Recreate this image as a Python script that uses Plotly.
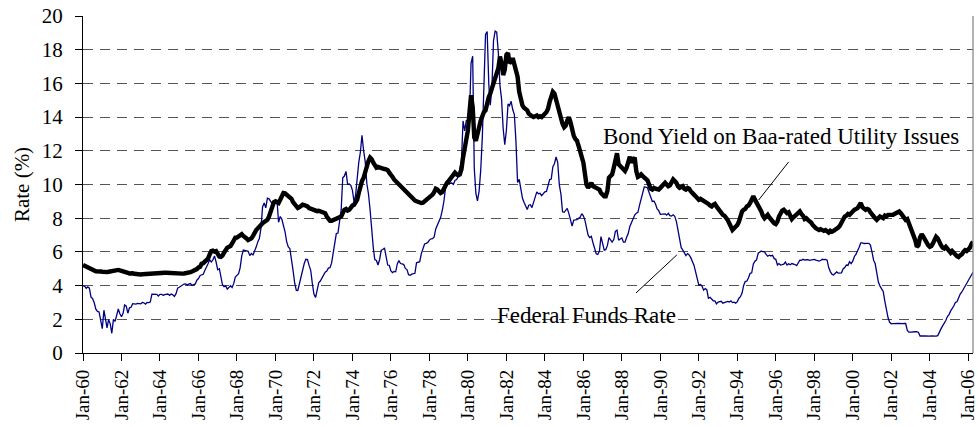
import pandas as pd
import plotly.graph_objects as go

# Monthly series, Jan 1960 - Apr 2006 (percent)
fed_funds = [
    3.99, 3.97, 3.84, 3.92, 3.85, 3.32, 3.23, 2.98, 2.60, 2.47, 2.44, 1.98,   # 1960
    1.45, 2.54, 2.02, 1.49, 1.98, 1.73, 1.17, 2.00, 1.88, 2.26, 2.61, 2.33,   # 1961
    2.15, 2.37, 2.85, 2.78, 2.36, 2.68, 2.71, 2.93, 2.90, 2.90, 2.94, 2.93,   # 1962
    2.92, 3.00, 2.98, 2.90, 3.00, 2.99, 3.02, 3.49, 3.48, 3.50, 3.48, 3.38,   # 1963
    3.48, 3.48, 3.43, 3.47, 3.50, 3.50, 3.42, 3.50, 3.45, 3.36, 3.52, 3.85,   # 1964
    3.90, 3.98, 4.04, 4.09, 4.10, 4.04, 4.09, 4.12, 4.01, 4.08, 4.10, 4.32,   # 1965
    4.42, 4.60, 4.65, 4.67, 4.90, 5.17, 5.30, 5.53, 5.40, 5.53, 5.76, 5.40,   # 1966
    4.94, 5.00, 4.53, 4.05, 3.94, 3.98, 3.79, 3.90, 3.99, 3.88, 4.13, 4.51,   # 1967
    4.61, 4.71, 5.05, 5.76, 6.11, 6.07, 6.03, 6.03, 5.78, 5.91, 5.82, 6.02,   # 1968
    6.30, 6.61, 6.79, 7.41, 8.67, 8.90, 8.61, 9.19, 9.15, 9.00, 8.85, 8.97,   # 1969
    8.98, 8.98, 7.76, 8.10, 7.95, 7.61, 7.21, 6.61, 6.29, 6.20, 5.60, 4.90,   # 1970
    4.14, 3.72, 3.71, 4.16, 4.63, 4.91, 5.31, 5.56, 5.55, 5.20, 4.91, 4.14,   # 1971
    3.50, 3.29, 3.83, 4.17, 4.27, 4.46, 4.55, 4.80, 4.87, 5.04, 5.06, 5.33,   # 1972
    5.94, 6.58, 7.09, 7.12, 7.84, 8.49, 10.40, 10.50, 10.78, 10.01, 10.03, 9.95,  # 1973
    9.65, 8.97, 9.35, 10.51, 11.31, 11.93, 12.92, 12.01, 11.34, 10.06, 9.45, 8.53,  # 1974
    7.13, 6.24, 5.54, 5.49, 5.22, 5.55, 6.10, 6.14, 6.24, 5.82, 5.22, 5.20,   # 1975
    4.87, 4.77, 4.84, 4.82, 5.29, 5.48, 5.31, 5.29, 5.25, 5.02, 4.95, 4.65,   # 1976
    4.61, 4.68, 4.69, 4.73, 5.35, 5.39, 5.42, 5.90, 6.14, 6.47, 6.51, 6.56,   # 1977
    6.70, 6.78, 6.79, 6.89, 7.36, 7.60, 7.81, 8.04, 8.45, 8.96, 9.76, 10.03,  # 1978
    10.07, 10.06, 10.09, 10.01, 10.24, 10.29, 10.47, 10.94, 11.43, 13.77, 13.18, 13.78,  # 1979
    13.82, 14.13, 17.19, 17.61, 10.98, 9.47, 9.03, 9.61, 10.87, 12.81, 15.85, 18.90,  # 1980
    19.08, 15.93, 14.70, 15.72, 18.52, 19.10, 19.04, 17.82, 15.87, 15.08, 13.31, 12.37,  # 1981
    13.22, 14.78, 14.68, 14.94, 14.45, 14.15, 12.59, 10.12, 10.31, 9.71, 9.20, 8.95,  # 1982
    8.68, 8.51, 8.77, 8.80, 8.63, 8.98, 9.37, 9.56, 9.45, 9.48, 9.34, 9.47,   # 1983
    9.56, 9.59, 9.91, 10.29, 10.32, 11.06, 11.23, 11.64, 11.30, 9.99, 9.43, 8.38,  # 1984
    8.35, 8.50, 8.58, 8.27, 7.97, 7.53, 7.88, 7.90, 7.92, 7.99, 8.05, 8.27,   # 1985
    8.14, 7.86, 7.48, 6.99, 6.85, 6.92, 6.56, 6.17, 5.89, 5.85, 6.04, 6.91,   # 1986
    6.43, 6.10, 6.13, 6.37, 6.85, 6.73, 6.58, 6.73, 7.22, 7.29, 6.69, 6.77,   # 1987
    6.83, 6.58, 6.58, 6.87, 7.09, 7.51, 7.75, 8.01, 8.19, 8.30, 8.35, 8.76,   # 1988
    9.12, 9.36, 9.85, 9.84, 9.81, 9.53, 9.24, 8.99, 9.02, 8.84, 8.55, 8.45,   # 1989
    8.23, 8.24, 8.28, 8.26, 8.18, 8.29, 8.15, 8.13, 8.20, 8.11, 7.81, 7.31,   # 1990
    6.91, 6.25, 6.12, 5.91, 5.78, 5.90, 5.82, 5.66, 5.45, 5.21, 4.81, 4.43,   # 1991
    4.03, 4.06, 3.98, 3.73, 3.82, 3.76, 3.25, 3.30, 3.22, 3.10, 3.09, 2.92,   # 1992
    3.02, 3.03, 3.07, 2.96, 3.00, 3.04, 3.06, 3.03, 3.09, 2.99, 3.02, 2.96,   # 1993
    3.05, 3.25, 3.34, 3.56, 4.01, 4.25, 4.26, 4.47, 4.73, 4.76, 5.29, 5.45,   # 1994
    5.53, 5.92, 5.98, 6.05, 6.01, 6.00, 5.85, 5.74, 5.80, 5.76, 5.80, 5.60,   # 1995
    5.56, 5.22, 5.31, 5.22, 5.24, 5.27, 5.40, 5.22, 5.30, 5.24, 5.31, 5.29,   # 1996
    5.25, 5.19, 5.39, 5.51, 5.50, 5.56, 5.52, 5.54, 5.54, 5.50, 5.52, 5.50,   # 1997
    5.56, 5.51, 5.49, 5.45, 5.49, 5.56, 5.54, 5.55, 5.51, 5.07, 4.83, 4.68,   # 1998
    4.63, 4.76, 4.81, 4.74, 4.74, 4.76, 4.99, 5.07, 5.22, 5.20, 5.42, 5.30,   # 1999
    5.45, 5.73, 5.85, 6.02, 6.27, 6.53, 6.54, 6.50, 6.52, 6.51, 6.51, 6.40,   # 2000
    5.98, 5.49, 5.31, 4.80, 4.21, 3.97, 3.77, 3.65, 3.07, 2.49, 2.09, 1.82,   # 2001
    1.73, 1.74, 1.73, 1.75, 1.75, 1.75, 1.73, 1.74, 1.75, 1.75, 1.34, 1.24,   # 2002
    1.24, 1.26, 1.25, 1.26, 1.26, 1.22, 1.01, 1.03, 1.01, 1.01, 1.00, 0.98,   # 2003
    1.00, 1.01, 1.00, 1.00, 1.00, 1.03, 1.26, 1.43, 1.61, 1.76, 1.93, 2.16,   # 2004
    2.28, 2.50, 2.63, 2.79, 3.00, 3.04, 3.26, 3.50, 3.62, 3.78, 4.00, 4.16,   # 2005
    4.29, 4.49, 4.59, 4.79,                                                   # 2006
]

baa_utility = [
    5.22, 5.18, 5.12, 5.10, 5.08, 5.05, 4.98, 4.90, 4.85, 4.86, 4.88, 4.84,   # 1960
    4.82, 4.80, 4.78, 4.80, 4.82, 4.84, 4.86, 4.88, 4.92, 4.94, 4.93, 4.90,   # 1961
    4.88, 4.87, 4.85, 4.80, 4.76, 4.72, 4.74, 4.73, 4.70, 4.68, 4.66, 4.67,   # 1962
    4.66, 4.67, 4.68, 4.68, 4.69, 4.70, 4.71, 4.70, 4.71, 4.72, 4.73, 4.72,   # 1963
    4.73, 4.74, 4.75, 4.76, 4.76, 4.75, 4.75, 4.74, 4.73, 4.74, 4.73, 4.72,   # 1964
    4.71, 4.70, 4.71, 4.72, 4.73, 4.76, 4.78, 4.80, 4.84, 4.88, 4.92, 4.98,   # 1965
    5.08, 5.12, 5.30, 5.32, 5.42, 5.52, 5.60, 5.85, 6.05, 6.08, 6.02, 6.05,   # 1966
    5.88, 5.72, 5.70, 5.78, 5.95, 6.15, 6.25, 6.30, 6.35, 6.50, 6.72, 6.85,   # 1967
    6.85, 6.90, 7.00, 7.05, 6.95, 6.90, 6.80, 6.70, 6.72, 6.80, 6.95, 7.20,   # 1968
    7.30, 7.40, 7.55, 7.60, 7.70, 7.75, 7.80, 7.90, 8.10, 8.35, 8.70, 8.95,   # 1969
    9.00, 8.95, 8.90, 9.10, 9.35, 9.50, 9.48, 9.40, 9.35, 9.30, 9.15, 8.95,   # 1970
    8.80, 8.65, 8.60, 8.65, 8.75, 8.80, 8.78, 8.75, 8.70, 8.60, 8.55, 8.50,   # 1971
    8.45, 8.40, 8.42, 8.44, 8.40, 8.38, 8.36, 8.30, 8.10, 7.95, 7.85, 7.85,   # 1972
    7.90, 7.95, 7.98, 8.00, 8.05, 8.10, 8.30, 8.50, 8.55, 8.45, 8.50, 8.65,   # 1973
    8.75, 8.80, 9.00, 9.10, 9.50, 9.90, 10.20, 10.40, 10.80, 11.10, 11.40, 11.60,  # 1974
    11.50, 11.30, 11.10, 11.00, 11.05, 11.00, 10.95, 10.90, 10.92, 10.90, 10.85, 10.70,  # 1975
    10.60, 10.45, 10.30, 10.20, 10.10, 10.00, 9.90, 9.80, 9.65, 9.55, 9.45, 9.40,  # 1976
    9.30, 9.20, 9.10, 9.05, 9.00, 8.95, 8.95, 8.90, 8.92, 9.00, 9.10, 9.15,   # 1977
    9.20, 9.30, 9.40, 9.55, 9.75, 9.70, 9.60, 9.50, 9.55, 9.75, 10.00, 10.10,  # 1978
    10.20, 10.35, 10.50, 10.65, 10.70, 10.60, 10.55, 10.60, 10.90, 11.60, 12.20, 12.40,  # 1979
    13.20, 14.30, 15.30, 14.60, 12.80, 12.60, 12.90, 13.40, 13.80, 14.10, 14.30, 14.40,  # 1980
    14.90, 15.20, 15.40, 15.70, 16.10, 16.40, 16.60, 16.90, 17.60, 17.20, 16.50, 16.80,  # 1981
    17.70, 17.80, 17.20, 17.30, 17.50, 17.20, 16.90, 16.40, 15.50, 15.00, 14.70, 14.55,  # 1982
    14.50, 14.40, 14.20, 14.10, 14.05, 14.00, 14.05, 14.10, 14.00, 14.05, 14.00, 14.15,  # 1983
    14.20, 14.30, 14.50, 14.90, 15.30, 15.50, 15.40, 15.00, 14.70, 14.40, 14.00, 13.60,  # 1984
    13.40, 13.50, 13.80, 14.00, 13.70, 13.20, 12.90, 12.70, 12.60, 12.30, 12.00, 11.80,  # 1985
    11.30, 10.60, 10.00, 9.80, 9.95, 10.10, 9.90, 9.85, 9.80, 9.75, 9.70, 9.50,  # 1986
    9.35, 9.30, 9.30, 9.60, 10.40, 10.50, 10.60, 11.00, 11.40, 11.85, 11.20, 11.10,  # 1987
    11.00, 10.85, 10.80, 11.00, 11.40, 11.65, 11.30, 11.50, 11.60, 10.80, 10.45, 10.50,  # 1988
    10.60, 10.50, 10.40, 10.30, 10.25, 10.00, 9.75, 9.70, 9.80, 9.75, 9.70, 9.70,  # 1989
    9.80, 9.90, 10.00, 10.10, 10.00, 9.90, 9.95, 10.20, 10.30, 10.20, 10.10, 9.90,  # 1990
    9.80, 9.85, 9.90, 9.75, 9.70, 9.80, 9.75, 9.60, 9.45, 9.40, 9.30, 9.20,   # 1991
    9.10, 9.15, 9.10, 9.05, 9.00, 8.95, 8.85, 8.75, 8.70, 8.80, 8.85, 8.70,   # 1992
    8.55, 8.40, 8.25, 8.20, 8.15, 8.05, 7.90, 7.70, 7.45, 7.30, 7.40, 7.50,   # 1993
    7.60, 7.80, 8.10, 8.40, 8.50, 8.55, 8.70, 8.75, 8.90, 9.15, 9.30, 9.10,   # 1994
    8.95, 8.80, 8.60, 8.40, 8.15, 8.00, 8.10, 8.20, 8.05, 7.90, 7.80, 7.70,   # 1995
    7.65, 7.80, 8.10, 8.30, 8.45, 8.50, 8.40, 8.30, 8.35, 8.10, 7.95, 8.05,   # 1996
    8.15, 8.20, 8.35, 8.40, 8.25, 8.15, 7.95, 8.00, 7.90, 7.85, 7.75, 7.60,   # 1997
    7.45, 7.40, 7.35, 7.30, 7.35, 7.30, 7.25, 7.30, 7.20, 7.15, 7.25, 7.20,   # 1998
    7.25, 7.30, 7.40, 7.45, 7.55, 7.75, 7.90, 8.10, 8.15, 8.25, 8.20, 8.35,   # 1999
    8.40, 8.50, 8.55, 8.60, 8.75, 8.90, 8.65, 8.55, 8.50, 8.55, 8.50, 8.35,   # 2000
    8.20, 8.10, 8.00, 7.90, 8.05, 8.10, 8.05, 8.00, 8.15, 8.10, 8.20, 8.20,   # 2001
    8.15, 8.20, 8.25, 8.30, 8.35, 8.40, 8.30, 8.15, 8.00, 7.90, 7.95, 7.70,   # 2002
    7.40, 7.15, 7.00, 6.70, 6.30, 6.40, 6.85, 7.05, 6.90, 6.70, 6.55, 6.40,   # 2003
    6.30, 6.35, 6.50, 6.75, 6.90, 6.80, 6.55, 6.40, 6.25, 6.20, 6.30, 6.15,   # 2004
    6.05, 5.95, 6.05, 5.90, 5.85, 5.75, 5.70, 5.80, 5.85, 6.00, 6.10, 6.05,   # 2005
    6.15, 6.25, 6.45, 6.60,                                                   # 2006
]

months = pd.date_range("1960-01-01", periods=len(fed_funds), freq="MS")

tick_years = list(range(1960, 2007, 2))
tick_dates = [f"{y}-01-01" for y in tick_years]
tick_labels = [f"Jan-{y % 100:02d}" for y in tick_years]

FONT = "Liberation Serif, Times New Roman, serif"

fig = go.Figure()
fig.add_trace(go.Scatter(
    x=months, y=fed_funds, mode="lines", name="Federal Funds Rate",
    line=dict(color="#000080", width=1.3),
))
fig.add_trace(go.Scatter(
    x=months, y=baa_utility, mode="lines",
    name="Bond Yield on Baa-rated Utility Issues",
    line=dict(color="#000000", width=4.4),
))

# Callout labels with their leader lines
fig.add_annotation(
    x="1996-04-10", y=12.85, xref="x", yref="y",
    text="Bond Yield on Baa-rated Utility Issues", showarrow=False,
    font=dict(family=FONT, size=23, color="#000000"),
)
fig.add_annotation(
    x="1986-02-20", y=2.2, xref="x", yref="y",
    text="Federal Funds Rate", showarrow=False,
    font=dict(family=FONT, size=23, color="#000000"),
)
fig.add_shape(type="line", xref="x", yref="y",
              x0="1996-09-01", y0=11.34, x1="1995-02-10", y1=9.08,
              line=dict(color="#000000", width=1))
fig.add_shape(type="line", xref="x", yref="y",
              x0="1988-09-25", y0=3.56, x1="1990-11-10", y1=5.82,
              line=dict(color="#000000", width=1))
# Right border of the plot area
fig.add_shape(type="line", xref="paper", yref="paper",
              x0=1, y0=0, x1=1, y1=1,
              line=dict(color="#808080", width=1.2))

fig.update_layout(
    width=979, height=427,
    margin=dict(l=83, r=6, t=16, b=74),
    paper_bgcolor="#ffffff", plot_bgcolor="#ffffff",
    showlegend=False,
    font=dict(family=FONT, size=21, color="#000000"),
)
fig.update_xaxes(
    type="date", range=["1960-01-01", "2006-04-01"],
    tickmode="array", tickvals=tick_dates, ticktext=tick_labels,
    tickangle=-90, ticks="outside", ticklen=7, tickcolor="#000000",
    showline=True, linecolor="#000000", linewidth=1.2,
    showgrid=False, zeroline=False, automargin=False,
    tickfont=dict(family=FONT, size=19, color="#000000"),
    ticklabelstandoff=1, ticklabeloverflow="allow",
)
fig.update_yaxes(
    range=[0, 20], dtick=2, tick0=0,
    ticks="outside", ticklen=7, tickcolor="#000000",
    showline=True, linecolor="#000000", linewidth=1.2,
    showgrid=True, gridcolor="#555555", gridwidth=1.2, griddash="10px,7px",
    zeroline=False, automargin=False,
    tickfont=dict(family=FONT, size=21, color="#000000"),
    ticklabelstandoff=8,
    title=dict(text="Rate (%)", font=dict(family=FONT, size=21, color="#000000"),
               standoff=6),
)

fig.write_html("out.html")
